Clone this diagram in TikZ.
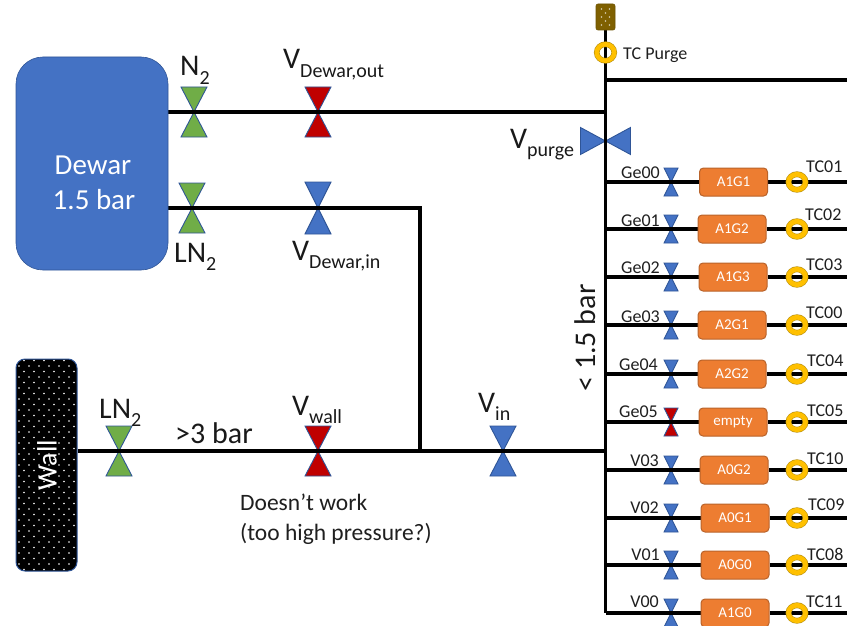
\documentclass[tikz,border=0pt]{standalone}
\usepackage{fontspec}
\setmainfont{Carlito}
\usetikzlibrary{shapes.geometric}
\pgfdeclarelayer{valvelayer}
\pgfdeclarelayer{pipelayer}
\pgfsetlayers{valvelayer,pipelayer,main}
\definecolor{vblue}{HTML}{4472C4}
\definecolor{vline}{HTML}{2F5597}
\definecolor{vgreen}{HTML}{70AD47}
\definecolor{vred}{HTML}{C00000}
\definecolor{boxfill}{HTML}{ED7D31}
\definecolor{boxline}{HTML}{B9632A}
\definecolor{ringfill}{HTML}{FFC000}
\definecolor{ringline}{HTML}{B8900F}
\definecolor{brownfill}{HTML}{7F6000}
\newcommand{\fs}[1]{\fontsize{#1}{#1}\selectfont}
\newcommand{\bigsub}[2]{\fs{30}#1\raisebox{-0.27em}{\fs{20}#2}}
\newcommand{\valveV}[6]{%
  \node[coordinate] (#1) at (#2,#3) {};
  \begin{pgfonlayer}{valvelayer}
    \draw[valveedge,fill=#6] (#2-#4,#3-#5) -- (#2+#4,#3-#5) -- (#2-#4,#3+#5) -- (#2+#4,#3+#5) -- cycle;
  \end{pgfonlayer}}
\newcommand{\valveH}[6]{%
  \node[coordinate] (#1) at (#2,#3) {};
  \begin{pgfonlayer}{valvelayer}
    \draw[valveedge,fill=#6] (#2-#4,#3-#5) -- (#2-#4,#3+#5) -- (#2+#4,#3-#5) -- (#2+#4,#3+#5) -- cycle;
  \end{pgfonlayer}}
\tikzset{
  x=1pt,y=-1pt,
  valveedge/.style={draw=vline,line width=0.9pt,line join=miter},
  pipe/.style={draw=black,line width=3.6pt,line join=miter},
  rowbox/.style={draw=boxline,fill=boxfill,line width=1pt,rounded corners=4pt,minimum width=68pt,minimum height=28pt,inner sep=0pt,text=white,font=\fs{15}},
  ring/.style={ellipse,draw=ringline,double=ringfill,double distance=4.6pt,line width=0.6pt,minimum width=17pt,minimum height=15.5pt,inner sep=0pt},
  purgering/.style={ring,double distance=4.4pt,minimum width=17.5pt,minimum height=16.5pt},
  lab/.style={inner sep=0pt,text=black!88,font=\fs{18}},
  biglab/.style={inner sep=0pt,text=black!90,font=\fs{30}},
}
\begin{document}
\begin{tikzpicture}
\useasboundingbox (0,0) rectangle (847,626);
% sources
\node[draw=vline,fill=vblue,line width=0.6pt,rounded corners=27pt,minimum width=152pt,minimum height=213pt,inner sep=0pt] (dewar) at (92,163.5) {};
\node[anchor=base,inner sep=0pt,text=white,font=\fs{29}] (dewarname) at (93,174) {Dewar};
\node[anchor=base,inner sep=0pt,text=white,font=\fs{29}] (dewarbar) at (94,209) {1.5 bar};
\node[draw=vline,fill=black,line width=1pt,rounded corners=9pt,minimum width=61pt,minimum height=212pt,inner sep=0pt,
  path picture={
    \foreach \a in {-20,...,20}{
      \foreach \b in {-4,...,3}{
        \fill[white] ({\b*10+5+mod(abs(\a),2)*5-2.5},{\a*5.5}) circle (0.85pt);
      }
    }
  }] (wall) at (46.5,465) {};
\node[text=white,font=\fs{28},rotate=90,inner sep=0pt] (walltext) at (47,465) {Wall};
\node[fill=brownfill,draw=brownfill!85!black,line width=0.6pt,rounded corners=2pt,minimum width=19pt,minimum height=26pt,inner sep=0pt,
  path picture={
    \foreach \a in {-1,0,1}{
      \foreach \b in {-1,1}{
        \fill[brownfill!30!white] (\b*4,\a*8) circle (0.85pt);
      }
    }
    \foreach \a in {-1,1}{\fill[brownfill!30!white] (0,\a*4) circle (0.85pt);}
  }] (purgesrc) at (605.5,17) {};
\node[purgering] (tcpurge) at (605.5,52.5) {};
% big valves
\valveV{vNtwo}{194}{112}{13}{25}{vgreen}
\valveV{vLNtop}{192}{208}{13}{25}{vgreen}
\valveV{vDout}{318}{112}{13}{25}{vred}
\valveV{vDin}{318}{208}{13}{26}{vblue}
\valveV{vLNwall}{119}{451}{13}{25}{vgreen}
\valveV{vWall}{318}{451}{13}{25}{vred}
\valveV{vIn}{503}{451}{13}{25}{vblue}
\valveH{vPurge}{605.5}{141}{25}{13.5}{vblue}
\node[coordinate] (jn) at (420,451) {};
\node[coordinate] (edgetop) at (847,80) {};
\node[coordinate] (topbranch) at (605.5,80) {};
% rows
\foreach \i/\ry/\vx/\bx/\bt/\gt/\gx/\gy/\tt/\tx/\ty/\vc in {
  0/182/671/733.5/A1G1/Ge00/660/178/TC01/806/172/vblue,
  1/229/671/732/A1G2/Ge01/660/226/TC02/805/220/vblue,
  2/277/671/733/A1G3/Ge02/660/273/TC03/806/270/vblue,
  3/325/671/732/A2G1/Ge03/660/322/TC00/806/318/vblue,
  4/374/671/732/A2G2/Ge04/658/370/TC04/807/366/vblue,
  5/422/671/733/empty/Ge05/658/417/TC05/807/416/vred,
  6/470/671/734/A0G2/V03/659/466/TC10/807/464/vblue,
  7/518/671/735/A0G1/V02/659/513/TC09/808/510/vblue,
  8/565/671/735/A0G0/V01/660/560/TC08/807/560/vblue,
  9/613/671/735/A1G0/V00/659/607/TC11/806/607/vblue}{
  \valveV{rv\i}{\vx}{\ry}{7}{14}{\vc}
  \node[rowbox] (rb\i) at (\bx,\ry) {\bt};
  \node[ring] (rr\i) at (797,\ry) {};
  \node[lab,anchor=base east] (gl\i) at (\gx,\gy) {\gt};
  \node[lab,anchor=base west] (tl\i) at (\tx,\ty) {\tt};
  \node[coordinate] (re\i) at (847,\ry) {};
  \node[coordinate] (rs\i) at (605.5,\ry) {};
  \begin{pgfonlayer}{pipelayer}
    \draw[pipe] (rs\i) -- (rv\i) -- (rb\i.west);
    \draw[pipe] (rb\i.east) -- (re\i);
  \end{pgfonlayer}
}
% pipes
\begin{pgfonlayer}{pipelayer}
  \draw[pipe] (purgesrc.south) -- (rs9);
  \draw[pipe] (topbranch) -- (edgetop);
  \draw[pipe] (dewar.east |- vDout) -- (vNtwo) -- (vDout) -- (vDout -| vPurge);
  \draw[pipe] (dewar.east |- vDin) -- (vLNtop) -- (vDin) -- (vDin -| jn) -- (jn);
  \draw[pipe] (wall.east |- vWall) -- (vLNwall) -- (vWall) -- (vIn) -- (vIn -| vPurge);
\end{pgfonlayer}
% labels
\node[lab,anchor=base west] (tcp) at (623,60) {TC Purge};
\node[biglab,anchor=base west] (lN) at (180,76) {\bigsub{N}{2}};
\node[biglab,anchor=base west] (lLNt) at (174,262) {\bigsub{LN}{2}};
\node[biglab,anchor=base west] (lDo) at (283,69) {\bigsub{V}{Dewar,out}};
\node[biglab,anchor=base west] (lDi) at (292,260) {\bigsub{V}{Dewar,in}};
\node[biglab,anchor=base west] (lLNw) at (99,418) {\bigsub{LN}{2}};
\node[biglab,anchor=base west] (lW) at (292,415) {\bigsub{V}{wall}};
\node[biglab,anchor=base west] (lI) at (478,412) {\bigsub{V}{in}};
\node[biglab,anchor=base west] (lP) at (510,148) {\bigsub{V}{purge}};
\node[biglab,anchor=base west] (l3) at (175,443) {>3 bar};
\node[lab,font=\fs{23.5},anchor=base west] (ld1) at (240,510) {Doesn’t work};
\node[lab,font=\fs{23.5},anchor=base west] (ld2) at (240,540) {(too high pressure?)};
\node[biglab,rotate=90] (lb) at (585,338) {< 1.5 bar};
\end{tikzpicture}
\end{document}
